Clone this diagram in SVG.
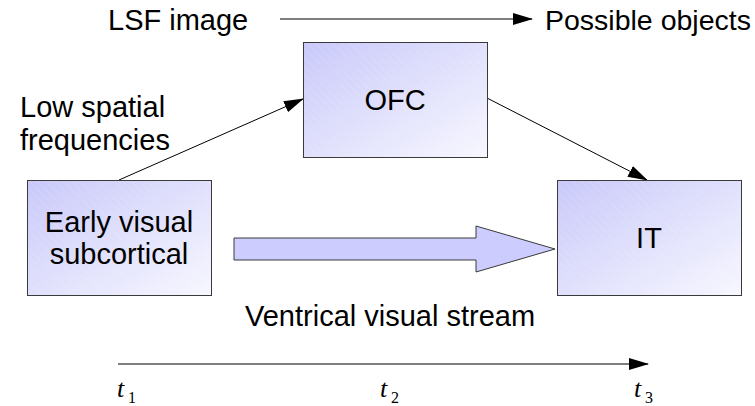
<svg xmlns="http://www.w3.org/2000/svg" width="755" height="406" viewBox="0 0 755 406">
  <style>
    .label { font-family: "Liberation Sans", Arial, sans-serif; font-size: 29px; fill: #000; }
    .mid { text-anchor: middle; }
    .box { fill: url(#boxFill); stroke: #3a3a3a; stroke-width: 1; }
    .hatch { fill: url(#hatch); stroke: none; }
    .conn { stroke: #000; stroke-width: 1; fill: none; marker-end: url(#head); }
    .tvar { font-family: "Liberation Serif", "Times New Roman", serif; font-style: italic; font-size: 26px; fill: #000; }
    .tsub { font-family: "Liberation Serif", "Times New Roman", serif; font-size: 16px; fill: #000; }
  </style>
  <defs>
    <linearGradient id="boxFill" x1="0" y1="0" x2="1" y2="1">
      <stop offset="0" stop-color="#c9c9fa"/>
      <stop offset="1" stop-color="#f7f7ff"/>
    </linearGradient>
    <pattern id="hatch" width="6" height="6" patternUnits="userSpaceOnUse" patternTransform="rotate(-45)">
      <line x1="0" y1="0" x2="0" y2="6" stroke="#ffffff" stroke-opacity="0.18" stroke-width="1"/>
    </pattern>
    <marker id="head" markerUnits="userSpaceOnUse" markerWidth="20" markerHeight="12" refX="19" refY="6" orient="auto">
      <path d="M0,0 L20,6 L0,12 z" fill="#000"/>
    </marker>
  </defs>

  <!-- top caption line -->
  <text class="label" x="108" y="30">LSF image</text>
  <text class="label" x="545" y="30" style="font-size:28.5px">Possible objects</text>

  <!-- side caption -->
  <text class="label" x="20" y="117">Low spatial</text>
  <text class="label" x="20" y="150">frequencies</text>

  <!-- connectors -->
  <g id="connectors">
    <line class="conn" x1="280" y1="19" x2="532" y2="19"/>
    <line class="conn" x1="119" y1="180" x2="303" y2="99"/>
    <line class="conn" x1="487" y1="98" x2="647" y2="180"/>
    <polygon id="ventral-arrow" points="234,238 476,238 476,226 555,249 476,272 476,260 234,260" fill="#ccccff" stroke="#3a3a3a" stroke-width="1"/>
    <line class="conn" x1="118" y1="364" x2="648" y2="364"/>
  </g>

  <g id="node-ofc">
    <rect class="box" x="303.5" y="42.5" width="184" height="115"/>
    <rect class="hatch" x="304" y="43" width="183" height="114"/>
    <text class="label mid" x="395" y="110">OFC</text>
  </g>

  <g id="node-early">
    <rect class="box" x="27.5" y="180.5" width="184" height="115"/>
    <rect class="hatch" x="28" y="181" width="183" height="114"/>
    <text class="label mid" x="119" y="232">Early visual</text>
    <text class="label mid" x="119" y="264">subcortical</text>
  </g>

  <g id="node-it">
    <rect class="box" x="557.5" y="180.5" width="184" height="115"/>
    <rect class="hatch" x="558" y="181" width="183" height="114"/>
    <text class="label mid" x="649" y="248">IT</text>
  </g>

  <text class="label" x="245" y="326">Ventrical visual stream</text>

  <!-- time axis labels -->
  <text class="tvar" x="117" y="397">t</text><text class="tsub" x="128" y="403">1</text>
  <text class="tvar" x="380" y="397">t</text><text class="tsub" x="391" y="403">2</text>
  <text class="tvar" x="634" y="397">t</text><text class="tsub" x="645" y="403">3</text>
</svg>
